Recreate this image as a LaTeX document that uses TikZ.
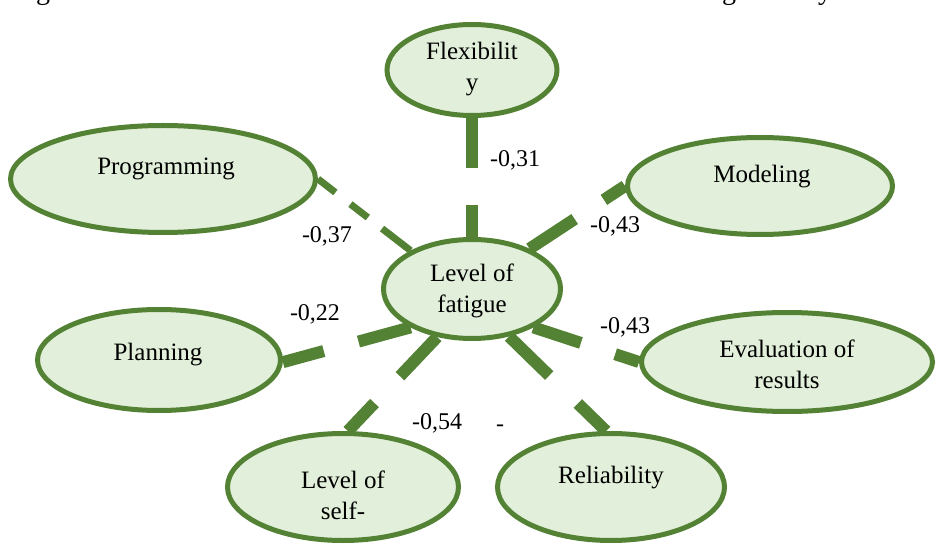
\documentclass[tikz,border=0pt]{standalone}
\usepackage{fontspec}
\newfontfamily\garfont{LiberationSerif}[Extension=.ttf, UprightFont=*-Regular, BoldFont=*-Bold]
\usetikzlibrary{shapes.geometric,backgrounds}
\definecolor{edgegreen}{RGB}{84,130,53}
\definecolor{fillgreen}{RGB}{226,239,218}
\begin{document}
\begin{tikzpicture}[x=1pt,y=-1pt,
  ell/.style={ellipse, draw=edgegreen, fill=fillgreen, line width=5pt, inner sep=0pt},
  txt/.style={font=\garfont\fontsize{25}{31}\selectfont, align=center, inner sep=0pt, text=black},
  lbl/.style={font=\garfont\fontsize{24}{29}\selectfont, inner sep=0pt, text=black},
  bar/.style={draw=edgegreen, line width=12pt},
  dashbar/.style={draw=edgegreen, line width=7pt},
]
\useasboundingbox (0,0) rectangle (940,545);
\clip (0,0) rectangle (940,545);

% fragments of the text line above
\node[txt, anchor=base, font=\garfont\fontsize{28}{31}\selectfont] (fragA) at (43,0) {g};
\node[txt, anchor=base, font=\garfont\fontsize{28}{31}\selectfont] (fragB) at (729,0) {g};
\node[txt, anchor=base, font=\garfont\fontsize{28}{31}\selectfont] (fragC) at (825,0) {y};

% ellipses
\node[ell, minimum width=177pt, minimum height=99pt] (fat) at (472,289) {};
\node[ell, minimum width=170pt, minimum height=91pt] (flex) at (472,70) {};
\node[ell, minimum width=305pt, minimum height=107pt] (prog) at (163,179) {};
\node[ell, minimum width=265pt, minimum height=97pt] (model) at (760,186) {};
\node[ell, minimum width=243pt, minimum height=101pt] (plan) at (159,360) {};
\node[ell, minimum width=291pt, minimum height=99pt] (evalr) at (787,362) {};
\node[ell, minimum width=231pt, minimum height=107pt] (selfc) at (343,487) {};
\node[ell, minimum width=227pt, minimum height=107pt] (rel) at (611,487) {};

% texts
\node[txt] (tfat) at (472,291) {Level of\\fatigue};
\node[txt] (tflex) at (472,69) {Flexibilit\\y};
\node[txt] (tprog) at (166,169) {Programming};
\node[txt] (tmodel) at (762,177) {Modeling};
\node[txt] (tplan) at (158,355) {Planning};
\node[txt] (teval) at (787,364) {Evaluation of\\results};
\node[txt] (tself) at (343,495) {Level of\\self-};
\node[txt] (trel) at (611,478) {Reliability};

% connectors
\begin{scope}[on background layer]
\fill[white] (0,0) rectangle (940,545);
\draw[bar, dash pattern=on 50pt off 37pt on 200pt] (flex.south) -- (fat.north);
\draw[dashbar, dash pattern=on 22pt off 19pt on 22pt off 18pt on 60pt] (prog.east) -- (fat.148);
\draw[bar, dash pattern=on 54pt off 35pt on 200pt] (fat.35) -- (model.west);
\draw[bar, dash pattern=on 50pt off 36pt on 200pt] (fat.-32) -- (evalr.west);
\draw[bar, dash pattern=on 56pt off 40pt on 200pt] (fat.-52) -- (rel.95);
\draw[bar, dash pattern=on 54pt off 37pt on 200pt] (fat.234) -- (selfc.85);
\draw[bar, dash pattern=on 54pt off 36pt on 200pt] (fat.212) -- (plan.-1);
\end{scope}

% labels
\node[lbl] (l1) at (515,160) {-0,31};
\node[lbl] (l2) at (327,236) {-0,37};
\node[lbl] (l3) at (615,226) {-0,43};
\node[lbl] (l4) at (625,327) {-0,43};
\node[lbl] (l5) at (315,314) {-0,22};
\node[lbl] (l6) at (437,423) {-0,54};
\node[lbl] (l7) at (500,428) {-};
\end{tikzpicture}
\end{document}
